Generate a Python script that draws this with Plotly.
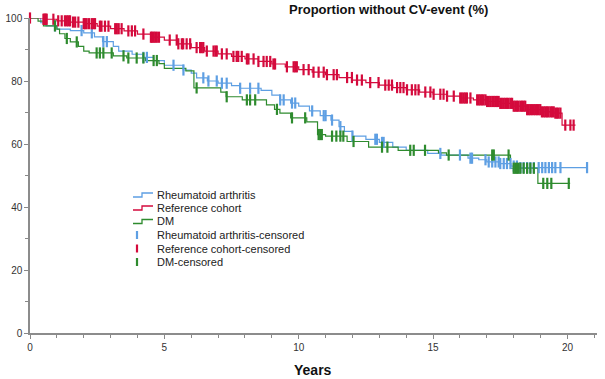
import numpy as np
import plotly.graph_objects as go

# ---------------- data ----------------
ra_time = [0, 0.4, 0.6, 1.0, 1.5, 2.0, 2.4, 2.7, 3.1, 3.3, 3.8, 4.2, 4.6, 5.0, 5.7, 6.0, 6.2,
           6.6, 7.0, 7.5, 7.8, 8.6, 9.0, 9.3, 9.7, 10.0, 10.4, 10.8, 11.2, 11.5, 11.7, 12.0,
           12.5, 13.0, 13.5, 14.0, 14.8, 15.3, 16.3, 16.7, 17.0, 17.5, 17.9, 18.2, 20.75]
ra_surv = [100, 98.5, 97.5, 96.5, 96.0, 95.3, 94.0, 92.5, 91.0, 89.5, 88.5, 87.5, 86.5, 85.0,
           83.5, 82.5, 81.0, 80.0, 79.3, 78.5, 77.7, 77.0, 75.5, 74.0, 73.0, 72.0, 70.5, 69.0,
           67.6, 65.5, 64.0, 62.5, 61.5, 60.5, 59.0, 58.0, 57.0, 56.5, 55.5, 55.0, 54.3, 53.8,
           53.0, 52.5, 52.5]

ref_time = [0, 0.5, 1.0, 1.5, 2.0, 2.5, 3.0, 3.5, 4.0, 4.5, 5.0, 5.5, 6.0, 6.5, 7.0, 7.5, 8.0,
            8.5, 9.0, 9.5, 10.0, 10.5, 11.0, 11.5, 12.0, 12.5, 13.0, 13.5, 14.0, 14.5, 15.0,
            15.5, 16.0, 16.5, 17.0, 17.5, 18.0, 18.5, 19.0, 19.5, 19.8, 20.3]
ref_surv = [100, 99.6, 99.1, 98.7, 98.2, 97.4, 96.6, 95.9, 94.9, 93.9, 93.0, 91.8, 90.6, 89.5,
            88.6, 87.8, 87.0, 86.2, 85.4, 84.5, 83.6, 82.8, 82.0, 81.1, 80.3, 79.5, 78.7, 77.9,
            77.2, 76.5, 75.8, 75.2, 74.6, 74.0, 73.5, 72.9, 72.0, 70.9, 70.2, 69.8, 66.0, 66.0]

dm_time = [0, 0.3, 0.5, 1.0, 1.1, 1.3, 1.5, 1.8, 2.0, 2.2, 3.1, 3.6, 4.3, 4.8, 5.0, 5.8, 6.1,
           7.1, 7.3, 7.9, 8.8, 9.1, 9.3, 9.7, 10.3, 10.7, 11.0, 11.8, 12.6, 13.7, 15.2, 15.5,
           17.88, 18.9, 20.1]
dm_surv = [100, 99.0, 97.5, 96.5, 95.0, 93.5, 92.4, 91.0, 89.5, 88.9, 88.0, 87.3, 86.5, 85.5,
           84.0, 83.2, 77.8, 76.5, 75.0, 74.0, 72.4, 71.0, 69.8, 68.3, 67.0, 63.0, 62.5, 60.8,
           59.0, 58.0, 57.2, 56.5, 52.3, 47.5, 47.5]

ra_cens = [0.93, 1.92, 2.3, 2.73, 2.86, 4.22, 4.35, 5.34, 5.71, 6.45, 6.64, 6.95, 7.14, 7.32,
           7.82, 8.19, 8.5, 9.31, 9.44, 9.75, 9.87, 10.5, 10.93, 11.0, 11.24, 11.55, 12.0,
           12.85, 12.91, 13.1, 13.16, 15.27, 16.0, 16.39, 16.45, 16.95, 17.07, 17.2, 17.32,
           17.44, 17.5, 17.63, 17.75, 17.88, 18.0, 18.12, 18.25, 18.37, 18.5, 18.62, 18.75,
           18.93, 19.06, 19.18, 19.31, 19.43, 19.55, 19.74, 20.73]

ref_cens = [0.0, 0.5, 0.53, 0.56, 0.6, 0.62, 0.87, 1.05, 1.18, 1.3, 1.37, 1.43, 1.49, 1.6, 1.68,
            1.8, 2.0, 2.05, 2.11, 2.2, 2.3, 2.36, 2.42, 2.6, 2.66, 2.79, 2.92, 3.17, 3.23, 3.3,
            3.41, 3.66, 3.79, 3.91, 4.22, 4.5, 4.55, 4.6, 4.66, 4.72, 4.8, 5.2, 5.46, 5.52,
            5.65, 5.7, 5.83, 5.96, 6.2, 6.33, 6.39, 6.45, 6.58, 6.83, 6.9, 6.95, 7.14, 7.32,
            7.57, 7.69, 7.75, 7.88, 8.07, 8.13, 8.32, 8.5, 8.69, 8.81, 8.94, 9.06, 9.12, 9.56,
            9.81, 9.87, 9.93, 10.18, 10.37, 10.55, 10.74, 10.93, 11.05, 11.3, 11.42, 11.8,
            11.98, 12.17, 12.35, 12.66, 12.97, 13.22, 13.35, 13.47, 13.66, 13.78, 13.9, 14.03,
            14.21, 14.34, 14.46, 14.71, 14.9, 15.02, 15.27, 15.39, 15.52, 15.77, 16.01, 16.07,
            16.14, 16.2, 16.26, 16.39, 16.64, 16.7, 16.76, 16.82, 16.88, 16.95, 17.01, 17.07,
            17.13, 17.2, 17.26, 17.32, 17.38, 17.44, 17.5, 17.56, 17.63, 17.69, 17.75, 17.81,
            17.88, 17.94, 18.0, 18.06, 18.12, 18.18, 18.25, 18.31, 18.37, 18.43, 18.5, 18.56,
            18.62, 18.68, 18.75, 18.81, 18.87, 18.93, 18.99, 19.05, 19.12, 19.18, 19.24, 19.3,
            19.37, 19.43, 19.49, 19.55, 19.61, 19.67, 19.74, 19.92, 20.11, 20.23]

dm_cens = [0.93, 1.37, 1.74, 2.48, 2.6, 2.73, 3.04, 3.48, 3.66, 3.97, 4.22, 4.6, 4.72, 6.2,
           7.32, 8.07, 8.19, 8.38, 9.19, 9.75, 10.24, 10.74, 10.8, 10.86, 11.24, 11.4, 11.55,
           11.66, 12.04, 13.1, 13.3, 14.15, 14.28, 14.7, 15.58, 17.2, 17.26, 17.81, 18.0,
           18.06, 18.12, 18.18, 18.25, 18.37, 18.5, 18.62, 18.75, 19.1, 19.25, 19.4, 20.05]

names = ["Rheumatoid arthritis", "Reference cohort", "DM"]
colors = ["#5e9fe3", "#d40a3c", "#2e8b2e"]

x_ticks = list(range(0, 22))
x_labels = ["0", "5", "10", "15", "20"]
y_ticks = list(range(0, 101, 10))
y_labels = ["0", "20", "40", "60", "80", "100"]


def surv_at(times, survs, t):
    idx = np.searchsorted(np.asarray(times), np.asarray(t), side="right") - 1
    return np.asarray(survs)[idx]


FONT = "Liberation Sans, Arial, sans-serif"
W, H = 605, 379
L, R, T, B = 30, 8, 18, 46
PW, PH = W - L - R, H - T - B

fig = go.Figure()
series = [(ra_time, ra_surv, ra_cens), (ref_time, ref_surv, ref_cens), (dm_time, dm_surv, dm_cens)]
for (tt, ss, cc), nm, col in zip(series, names, colors):
    fig.add_trace(go.Scatter(x=tt, y=ss, mode="lines", line=dict(color=col, width=1.2, shape="hv"),
                             name=nm, showlegend=False, cliponaxis=False, hoverinfo="skip"))
for (tt, ss, cc), nm, col in zip(series, names, colors):
    fig.add_trace(go.Scatter(x=cc, y=surv_at(tt, ss, cc), mode="markers",
                             marker=dict(symbol="line-ns-open", size=8, color=col,
                                         line=dict(width=2.2, color=col)),
                             name=nm + "-censored", showlegend=False, cliponaxis=False,
                             hoverinfo="skip"))


def px2paper(px, py):
    return (px - L) / PW, (H - B - py) / PH


annotations = []
shapes = []
# manual legend
rows_y = [195, 208, 221.5, 235, 248.5, 262]
legend_labels = [n for n in names] + [n + "-censored" for n in names]
for i, (lab, py) in enumerate(zip(legend_labels, rows_y)):
    col = colors[i % 3]
    tx, ty = px2paper(155, py)
    annotations.append(dict(x=tx, y=ty, xref="paper", yref="paper", text=lab, showarrow=False,
                            xanchor="left", yanchor="middle",
                            font=dict(family=FONT, size=11, color="#222")))
    if i < 3:
        x1, yl = px2paper(133, py + 2)
        x2, yh = px2paper(142, py - 2)
        x3, _ = px2paper(153, py)
        shapes.append(dict(type="path", xref="paper", yref="paper",
                           path=f"M {x1},{yl} L {x2},{yl} L {x2},{yh} L {x3},{yh}",
                           line=dict(color=col, width=1.3)))
    else:
        cx, y0 = px2paper(137, py + 4)
        _, y1 = px2paper(137, py - 4)
        shapes.append(dict(type="line", xref="paper", yref="paper", x0=cx, x1=cx, y0=y0, y1=y1,
                           line=dict(color=col, width=2.2)))

# x-axis title
ax, ay = px2paper(313, 370)
annotations.append(dict(x=ax, y=ay, xref="paper", yref="paper", text="<b>Years</b>",
                        showarrow=False, xanchor="center", yanchor="middle",
                        font=dict(family=FONT, size=14, color="#111")))
# chart title
tx, ty = px2paper(388, 9)
annotations.append(dict(x=tx, y=ty, xref="paper", yref="paper",
                        text="<b>Proportion without CV-event (%)</b>",
                        showarrow=False, xanchor="center", yanchor="middle",
                        font=dict(family=FONT, size=13, color="#111")))

fig.update_layout(
    width=W, height=H, margin=dict(l=L, r=R, t=T, b=B, autoexpand=False),
    paper_bgcolor="white", plot_bgcolor="white",
    annotations=annotations, shapes=shapes, showlegend=False,
    font=dict(family=FONT, size=10, color="#333"),
)
fig.update_xaxes(range=[0, 21.1], automargin=False, tickmode="array", tickvals=[0, 5, 10, 15, 20],
                 ticktext=x_labels,
                 ticks="outside", ticklen=4, tickcolor="#888", tickwidth=1,
                 minor=dict(tickmode="array", tickvals=x_ticks, ticks="outside", ticklen=3,
                            tickcolor="#888", tickwidth=1, showgrid=False),
                 showline=True, linecolor="#8c8c8c", linewidth=1.5, showgrid=False,
                 zeroline=False, tickfont=dict(family=FONT, size=10, color="#333"))
fig.update_yaxes(range=[0, 100], automargin=False, tickmode="array", tickvals=[0, 20, 40, 60, 80, 100],
                 ticktext=y_labels,
                 ticks="outside", ticklen=4, tickcolor="#888", tickwidth=1,
                 minor=dict(tickmode="array", tickvals=y_ticks, ticks="outside", ticklen=3,
                            tickcolor="#888", tickwidth=1, showgrid=False),
                 showline=True, linecolor="#8c8c8c", linewidth=1.5, showgrid=False,
                 zeroline=False, tickfont=dict(family=FONT, size=10, color="#333"))

fig.write_html("out.html", config={"displayModeBar": False},
               post_script="document.body.style.margin='0';document.body.style.overflow='hidden';")
